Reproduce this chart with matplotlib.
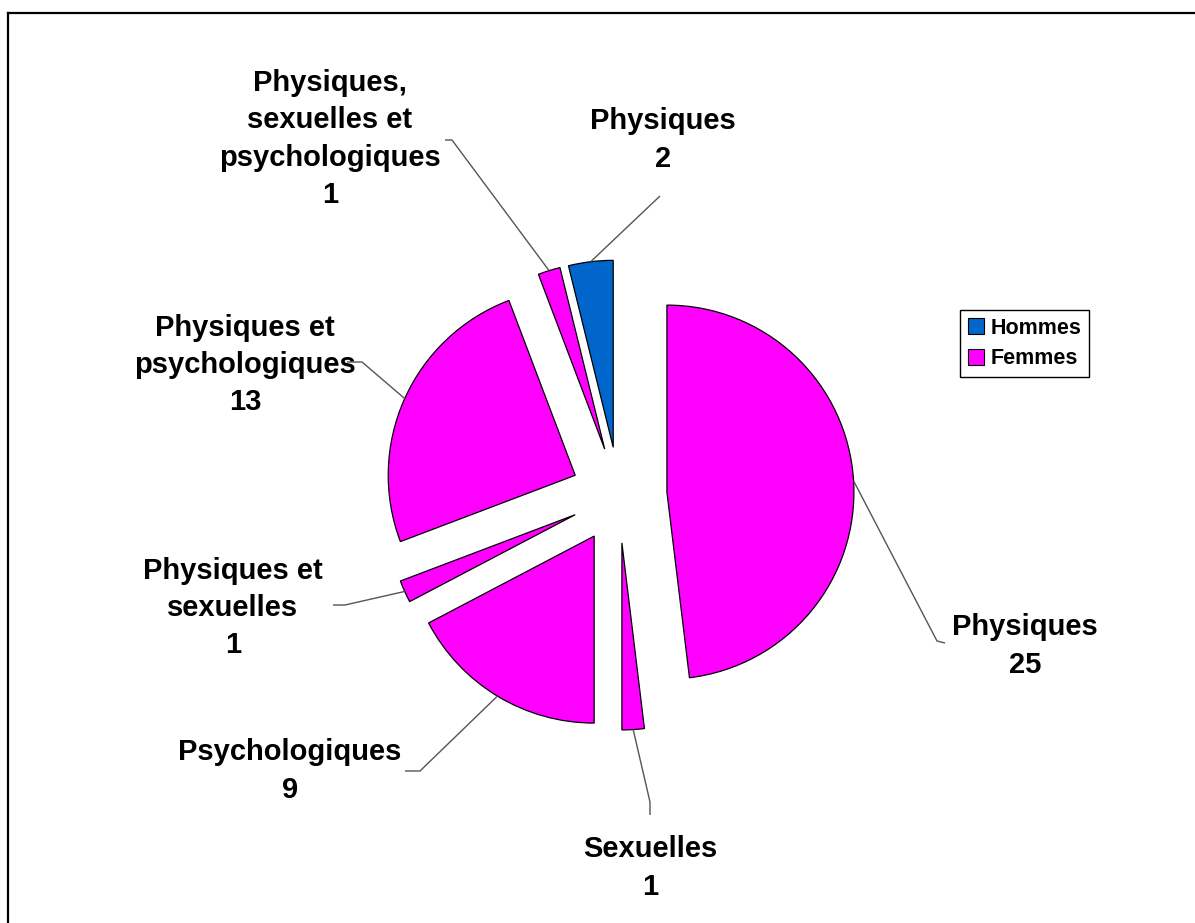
import matplotlib
matplotlib.use("Agg")
import matplotlib.pyplot as plt
from matplotlib.patches import Patch
from matplotlib.lines import Line2D
import numpy as np

# ---- data ----
categories = ["Physiques", "Sexuelles", "Psychologiques", "Physiques et\nsexuelles",
              "Physiques et\npsychologiques", "Physiques,\nsexuelles et\npsychologiques",
              "Physiques"]
values = [25, 1, 9, 1, 13, 1, 2]
groups = ["Femmes", "Femmes", "Femmes", "Femmes", "Femmes", "Femmes", "Hommes"]
legend_labels = ["Hommes", "Femmes"]

# ---- style / layout ----
W, H = 1195, 923
group_colors = {"Hommes": "#0066CC", "Femmes": "#FF00FF"}
center_px = (619, 495)
radius_px = 187
explode_px = 48

# label centres (pixel coords, y down) and leader elbow / end points
label_pos = [(1025, 646), (650, 868), (290, 771), (233, 608), (245, 365), (330, 139), (663, 140)]
leader_elbow = [(937, 641), (650, 802), (420, 771), (345, 605), (362, 362), (452, 140), (660, 196)]
leader_end = [(945, 643), (650, 815), (405, 771), (333, 605), (347, 362), (445, 140), (660, 196)]

plt.rcParams['font.family'] = ['Liberation Sans', 'DejaVu Sans']

fig = plt.figure(figsize=(W / 100, H / 100), dpi=100)
ax = fig.add_axes([0, 0, 1, 1])

def py(y):
    return H - y

colors = [group_colors[g] for g in groups]
wedges, _ = ax.pie(values, explode=[explode_px] * len(values), colors=colors,
                   startangle=90, counterclock=False, radius=radius_px,
                   center=(center_px[0], py(center_px[1])),
                   wedgeprops=dict(edgecolor="black", linewidth=0.9))

for i, w in enumerate(wedges):
    th = np.deg2rad((w.theta1 + w.theta2) / 2)
    cx, cy = w.center
    ax0 = cx + w.r * np.cos(th)
    ay0 = cy + w.r * np.sin(th)
    ex, ey = leader_elbow[i]
    fx, fy = leader_end[i]
    ax.plot([ax0, ex, fx], [ay0, py(ey), py(fy)], color="#555555", lw=1.0,
            solid_capstyle="butt", zorder=1)
    lx, ly = label_pos[i]
    ax.text(lx, py(ly), f"{categories[i]}\n{values[i]}", ha="center", va="center",
            fontsize=21, fontweight="bold", linespacing=1.42, color="black")

ax.set_xlim(0, W)
ax.set_ylim(0, H)
ax.set_aspect("equal")
ax.axis("off")

handles = [Patch(facecolor=group_colors[g], edgecolor="black", linewidth=0.8) for g in legend_labels]
leg = fig.legend(handles, legend_labels, loc="upper left",
                 bbox_to_anchor=(960 / W, 1 - 310 / H),
                 prop=dict(family="Liberation Sans", weight="bold", size=15.5),
                 frameon=True, fancybox=False, edgecolor="black", framealpha=1,
                 handlelength=0.75, handleheight=0.75, handletextpad=0.3,
                 borderpad=0.35, labelspacing=0.45, borderaxespad=0)
leg.get_frame().set_linewidth(1.0)

# chart area border (top and left visible)
fig.add_artist(Line2D([8 / W, 1], [1 - 13 / H, 1 - 13 / H], color="black", lw=1.6))
fig.add_artist(Line2D([8 / W, 8 / W], [0, 1 - 13 / H], color="black", lw=1.6))

fig.savefig("out.png", dpi=100, facecolor="white")
